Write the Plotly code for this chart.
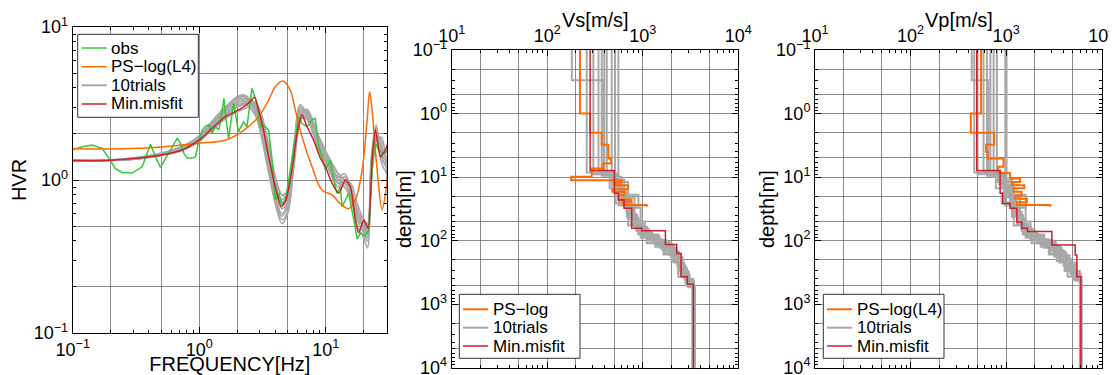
import plotly.graph_objects as go

# The page shows the figure with an 8 px body margin, so the figure is sized to fit the window.
OFF = 8
W, H = 1117 - OFF, 375 - OFF

# ---------------- HVR panel data ----------------
obs_f = [0.1, 0.119, 0.142, 0.171, 0.193, 0.217, 0.245, 0.295, 0.354, 0.387, 0.412, 0.451, 0.494, 0.525,
         0.611, 0.670, 0.711, 0.757, 0.804, 0.881, 0.936, 0.995, 1.057, 1.122, 1.194, 1.268, 1.346, 1.432,
         1.521, 1.570, 1.607, 1.706, 1.871, 2.046, 2.244, 2.388, 2.612, 2.864, 3.041, 3.228, 3.540, 3.767,
         4.000, 4.246, 4.519, 4.797, 5.248, 5.754, 6.109, 6.501, 7.129, 7.798, 8.279, 8.810, 9.354, 9.954,
         10.89, 11.56, 12.30, 13.06, 13.49, 14.32, 15.21, 16.67, 17.74, 18.84, 20.61, 21.93, 23.28, 24.77,
         26.30, 28.77, 31.4]
obs_hvr = [1.58, 1.65, 1.69, 1.61, 1.39, 1.19, 1.12, 1.11, 1.22, 1.49, 1.71, 1.42, 1.21, 1.32,
           1.65, 1.87, 1.74, 1.49, 1.39, 1.39, 1.42, 1.82, 2.12, 2.25, 2.29, 2.02, 2.23, 2.12,
           2.87, 3.42, 2.73, 1.87, 3.17, 2.07, 2.40, 2.23, 3.97, 3.17, 2.23, 2.29, 2.12, 1.35,
           0.74, 0.82, 0.69, 0.72, 1.16, 1.92, 2.59, 2.34, 2.23, 2.47, 2.53, 1.65, 1.42, 1.16,
           1.35, 1.00, 0.82, 0.90, 0.67, 0.74, 0.82, 0.55, 0.41, 0.45, 0.43, 0.47, 1.16, 1.74,
           1.57, 1.49, 1.57]

pslog_f = [0.1, 0.333, 1.0, 1.607, 2.178, 2.951, 3.540, 4.0, 4.571, 5.248, 5.754, 6.501, 7.798, 9.354,
           11.25, 13.06, 15.21, 17.18, 19.41, 21.28, 22.28, 23.28, 25.53, 27.93, 29.72, 31.4]
pslog_hvr = [1.60, 1.61, 1.74, 1.82, 2.07, 2.59, 3.33, 4.07, 4.44, 3.87, 2.87, 1.92, 1.22, 0.86,
             0.80, 0.70, 0.65, 0.74, 1.16, 2.47, 3.78, 2.87, 1.16, 0.64, 0.82, 1.16]

best_f = [0.1, 0.180, 0.333, 0.509, 0.733, 1.0, 1.268, 1.607, 1.824, 2.046, 2.455, 2.742, 2.951, 3.228,
          3.540, 4.0, 4.457, 4.797, 5.420, 5.943, 6.501, 7.129, 8.035, 9.078, 9.954, 11.25, 12.68, 14.32,
          15.70, 17.18, 18.24, 20.0, 21.68, 23.28, 24.77, 27.10, 29.72, 31.4]
best_hvr = [1.34, 1.34, 1.39, 1.46, 1.57, 1.82, 2.18, 2.59, 2.73, 2.87, 3.17, 3.47, 2.87, 2.12,
            1.42, 0.90, 0.67, 0.72, 1.16, 2.02, 2.66, 2.23, 1.82, 1.39, 1.22, 0.95, 0.82, 1.00,
            0.90, 0.55, 0.45, 0.55, 0.48, 1.35, 2.12, 1.42, 1.57, 1.82]

trial_f = [0.1, 0.25, 0.5, 0.8, 1.0, 1.25, 1.6, 2.0, 2.25, 2.5, 2.8, 3.15, 3.55, 4.0, 4.5, 5.0, 5.6,
           6.3, 7.1, 8.0, 8.9, 10, 11.2, 12.6, 14.1, 15.8, 17.8, 20, 21.4, 22.9, 25.1, 27.5, 30.5]
trial_hvr = [
    [1.34, 1.36, 1.48, 1.68, 1.90, 2.30, 2.90, 3.50, 3.60, 3.40, 2.90, 2.10, 1.30, 0.85, 0.70, 0.85, 1.70,
     3.00, 2.60, 2.00, 1.60, 1.35, 1.10, 0.95, 1.00, 0.85, 0.60, 0.50, 0.45, 1.10, 2.10, 1.60, 1.50],
    [1.34, 1.35, 1.45, 1.62, 1.80, 2.15, 2.60, 3.00, 3.10, 3.20, 3.00, 2.30, 1.50, 0.95, 0.75, 0.80, 1.40,
     2.70, 2.70, 2.10, 1.70, 1.40, 1.20, 1.00, 0.90, 0.80, 0.62, 0.55, 0.50, 1.30, 2.20, 1.40, 1.20],
    [1.34, 1.37, 1.50, 1.72, 1.95, 2.40, 3.00, 3.40, 3.30, 3.00, 2.60, 1.90, 1.15, 0.70, 0.52, 0.60, 1.20,
     2.40, 2.90, 2.30, 1.80, 1.50, 1.20, 1.05, 1.10, 0.90, 0.55, 0.45, 0.40, 0.90, 1.90, 1.70, 1.30],
    [1.34, 1.35, 1.44, 1.60, 1.78, 2.10, 2.50, 2.80, 2.90, 3.00, 2.90, 2.50, 1.70, 1.05, 0.80, 0.78, 1.30,
     2.50, 2.50, 2.20, 1.80, 1.45, 1.25, 1.10, 1.00, 0.95, 0.70, 0.55, 0.52, 1.00, 1.80, 1.90, 1.00],
    [1.34, 1.36, 1.47, 1.66, 1.86, 2.25, 2.80, 3.30, 3.40, 3.30, 2.80, 2.00, 1.25, 0.80, 0.60, 0.70, 1.50,
     2.90, 2.80, 2.00, 1.50, 1.30, 1.05, 0.90, 0.95, 0.80, 0.50, 0.42, 0.36, 1.20, 2.00, 1.50, 1.60],
    [1.34, 1.35, 1.46, 1.64, 1.83, 2.20, 2.70, 3.10, 3.20, 3.30, 3.10, 2.40, 1.55, 0.95, 0.72, 0.75, 1.35,
     2.60, 2.60, 2.20, 1.90, 1.55, 1.30, 1.10, 1.00, 0.85, 0.65, 0.50, 0.48, 1.40, 2.30, 1.30, 1.10],
    [1.34, 1.37, 1.49, 1.70, 1.92, 2.35, 2.95, 3.50, 3.50, 3.20, 2.70, 1.80, 1.10, 0.72, 0.58, 0.68, 1.55,
     3.10, 2.70, 2.10, 1.60, 1.30, 1.10, 0.95, 0.90, 0.75, 0.55, 0.50, 0.44, 1.00, 2.10, 1.60, 1.40],
    [1.34, 1.35, 1.45, 1.63, 1.82, 2.20, 2.70, 3.20, 3.30, 3.40, 3.10, 2.20, 1.40, 0.85, 0.65, 0.72, 1.45,
     2.80, 2.80, 2.30, 1.70, 1.40, 1.15, 1.00, 1.05, 0.90, 0.60, 0.48, 0.42, 1.15, 2.20, 1.50, 1.30],
    [1.34, 1.36, 1.47, 1.67, 1.88, 2.30, 2.85, 3.40, 3.50, 3.30, 2.80, 2.00, 1.20, 0.75, 0.55, 0.62, 1.30,
     2.60, 2.90, 2.40, 1.85, 1.50, 1.20, 1.00, 0.95, 0.85, 0.60, 0.50, 0.46, 1.10, 2.00, 1.80, 1.50],
    [1.34, 1.35, 1.45, 1.62, 1.80, 2.15, 2.65, 3.00, 3.15, 3.25, 3.20, 2.60, 1.60, 1.00, 0.80, 0.85, 1.50,
     2.70, 2.50, 2.00, 1.60, 1.35, 1.15, 1.05, 1.00, 0.80, 0.58, 0.52, 0.50, 1.25, 2.10, 1.45, 1.20],
]

# ---------------- Vs profiles (layer top depth [m], velocity [m/s]) ----------------
vs_pslog_top = [0.05, 1.0, 2.0, 3.1, 5.1, 6.1, 7.3, 9.9, 11.2, 12.2, 13.5, 15.5, 17.0, 19.5, 22.5, 24.5, 27.5]
vs_pslog = [220, 281, 372, 436, 466, 386, 292, 178, 600, 520, 700, 480, 640, 560, 760, 620, 1100]
pslog_bottom = 29.4

vs_best_top = [0.05, 7.9, 18, 23, 31, 64, 70, 115, 159, 371, 484]
vs_best = [281, 505, 556, 637, 767, 977, 1726, 2270, 2518, 2932, 3388]

vs_trial_top = [
    [0.05, 0.3, 9, 14, 25, 45, 80, 110, 180, 300, 450],
    [0.05, 8.5, 12, 20, 35, 60, 95, 140, 250, 420],
    [0.05, 9, 13, 19, 30, 55, 85, 130, 200, 350, 500],
    [0.05, 8, 11, 17, 28, 50, 90, 120, 220, 380, 520],
    [0.05, 9.5, 15, 22, 40, 70, 100, 150, 280, 460],
    [0.05, 8, 12, 18, 26, 45, 75, 105, 170, 260, 430],
    [0.05, 10, 16, 24, 38, 65, 100, 160, 240, 400],
    [0.05, 9, 14, 21, 33, 58, 88, 125, 190, 330, 480],
    [0.05, 10, 13, 20, 30, 50, 80, 115, 210, 370, 540],
    [0.05, 9, 15, 25, 42, 70, 110, 165, 300, 470],
]
vs_trial = [
    [181, 387, 480, 600, 700, 900, 1300, 2000, 2600, 3000, 3400],
    [259, 520, 580, 680, 820, 1100, 1600, 2300, 2800, 3400],
    [304, 540, 600, 900, 750, 1000, 1500, 2200, 2500, 3100, 3450],
    [344, 500, 640, 560, 800, 950, 1400, 2100, 2700, 2900, 3500],
    [372, 560, 620, 720, 880, 1200, 1800, 2400, 2900, 3300],
    [420, 480, 700, 520, 780, 900, 1250, 1900, 2500, 2850, 3400],
    [473, 600, 660, 760, 850, 1150, 1700, 2450, 2750, 3350],
    [513, 540, 600, 820, 700, 980, 1350, 2150, 2600, 3050, 3380],
    [556, 500, 560, 640, 950, 1050, 1450, 2000, 2350, 3000, 3500],
    [395, 450, 560, 680, 860, 1100, 1650, 2400, 2800, 3420],
]

# ---------------- Vp profiles ----------------
vp_pslog_top = [0.05, 1.0, 2.0, 3.1, 4.0, 5.1, 6.9, 8.6, 10.5, 12, 13.5, 15, 17, 19.5, 22, 25, 27.5]
vp_pslog = [547, 427, 748, 617, 640, 937, 830, 1100, 1400, 1150, 1550, 1200, 1450, 1250, 1650, 1300, 2900]

vp_best_top = [0.05, 7.9, 18, 26, 31, 51, 64, 72, 117, 168, 371]
vp_best = [493, 865, 922, 1100, 1294, 1460, 1672, 3012, 5280, 5500, 6050]

vp_trial_top = [
    [0.05, 0.3, 9, 14, 25, 45, 80, 110, 180, 300, 420],
    [0.05, 8.5, 12, 20, 35, 60, 95, 140, 250, 400],
    [0.05, 9, 13, 19, 30, 55, 85, 130, 200, 350],
    [0.05, 8, 11, 17, 28, 50, 90, 120, 220, 380],
    [0.05, 9.5, 15, 22, 40, 70, 100, 150, 280, 430],
    [0.05, 8, 12, 18, 26, 45, 75, 105, 170, 260, 400],
    [0.05, 10, 16, 24, 38, 65, 100, 160, 240, 380],
    [0.05, 9, 14, 21, 33, 58, 88, 125, 190, 330],
    [0.05, 10, 13, 20, 30, 50, 80, 115, 210, 370],
    [0.05, 9, 15, 25, 42, 70, 110, 165, 300],
]
vp_trial = [
    [437, 653, 900, 1100, 1300, 1500, 2200, 3200, 4500, 5200, 6100],
    [464, 880, 1000, 1200, 1450, 1800, 2800, 4000, 5000, 6000],
    [502, 950, 1100, 1600, 1300, 1700, 2500, 3800, 4800, 6100],
    [580, 850, 1150, 980, 1350, 1600, 2400, 3600, 5400, 6000],
    [630, 960, 1100, 1250, 1500, 2000, 3100, 4200, 5500, 6150],
    [684, 820, 1200, 900, 1300, 1550, 2100, 3300, 4600, 5100, 6000],
    [740, 1000, 1150, 1300, 1450, 1900, 2900, 4300, 5300, 6100],
    [800, 920, 1050, 1400, 1200, 1650, 2300, 3700, 4700, 6000],
    [980, 850, 950, 1100, 1600, 1800, 2500, 3400, 4400, 6100],
    [1010, 780, 960, 1150, 1450, 1850, 2800, 4100, 5900],
]

legend_hvr = ["obs", "PS\u2212log(L4)", "10trials", "Min.misfit"]
legend_vs = ["PS\u2212log", "10trials", "Min.misfit"]
legend_vp = ["PS\u2212log(L4)", "10trials", "Min.misfit"]

# ---------------- styles ----------------
C_OBS = "#33c933"
C_PS = "#ff6a00"
C_TRIAL = "#a8a8a8"
C_BEST = "#c8232a"
FONT = "Liberation Sans, Arial, sans-serif"
GRID = "rgba(100,100,100,0.75)"


def steps(tops, vels, bottom=3e4):
    xs, ys = [], []
    for i, v in enumerate(vels):
        top = tops[i]
        bot = tops[i + 1] if i + 1 < len(tops) else bottom
        xs += [v, v]
        ys += [top, bot]
    return xs, ys


def log_ticks(d0, d1):
    major, labels, minor, grid25 = [], [], [], []
    for d in range(d0, d1 + 1):
        major.append(10.0 ** d)
        labels.append("10<sup>%s%d</sup>" % ("\u2212" if d < 0 else "", abs(d)))
        for m in range(2, 10):
            minor.append(m * 10.0 ** d)
            if m in (2, 5):
                grid25.append(m * 10.0 ** d)
    return major, labels, minor, grid25


fig = go.Figure()

# HVR panel
for tr in trial_hvr:
    fig.add_trace(go.Scatter(x=trial_f, y=tr, mode="lines", line=dict(color=C_TRIAL, width=1.6, shape="spline"),
                             name="10trials", showlegend=False, xaxis="x", yaxis="y"))
fig.add_trace(go.Scatter(x=obs_f, y=obs_hvr, mode="lines", line=dict(color=C_OBS, width=1.5),
                         name="obs", showlegend=False, xaxis="x", yaxis="y"))
fig.add_trace(go.Scatter(x=pslog_f, y=pslog_hvr, mode="lines", line=dict(color=C_PS, width=1.5, shape="spline"),
                         name="PS-log(L4)", showlegend=False, xaxis="x", yaxis="y"))
fig.add_trace(go.Scatter(x=best_f, y=best_hvr, mode="lines",
                         line=dict(color=C_BEST, width=1.5, shape="spline", smoothing=0.6),
                         name="Min.misfit", showlegend=False, xaxis="x", yaxis="y"))

# Vs panel
for tops, vels in zip(vs_trial_top, vs_trial):
    x, y = steps(tops, vels)
    fig.add_trace(go.Scatter(x=x, y=y, mode="lines", line=dict(color=C_TRIAL, width=2),
                             name="10trials", showlegend=False, xaxis="x2", yaxis="y2"))
x, y = steps(vs_pslog_top, vs_pslog, pslog_bottom)
fig.add_trace(go.Scatter(x=x, y=y, mode="lines", line=dict(color=C_PS, width=2), name="PS-log",
                         showlegend=False, xaxis="x2", yaxis="y2"))
x, y = steps(vs_best_top, vs_best)
fig.add_trace(go.Scatter(x=x, y=y, mode="lines", line=dict(color=C_BEST, width=1.5), name="Min.misfit",
                         showlegend=False, xaxis="x2", yaxis="y2"))

# Vp panel
for tops, vels in zip(vp_trial_top, vp_trial):
    x, y = steps(tops, vels)
    fig.add_trace(go.Scatter(x=x, y=y, mode="lines", line=dict(color=C_TRIAL, width=2),
                             name="10trials", showlegend=False, xaxis="x3", yaxis="y3"))
x, y = steps(vp_pslog_top, vp_pslog, pslog_bottom)
fig.add_trace(go.Scatter(x=x, y=y, mode="lines", line=dict(color=C_PS, width=2), name="PS-log(L4)",
                         showlegend=False, xaxis="x3", yaxis="y3"))
x, y = steps(vp_best_top, vp_best)
fig.add_trace(go.Scatter(x=x, y=y, mode="lines", line=dict(color=C_BEST, width=1.5), name="Min.misfit",
                         showlegend=False, xaxis="x3", yaxis="y3"))

# empty traces so the overlay axes (grid lines at 2x and 5x) get drawn
for xa, ya in [("x4", "y4"), ("x5", "y5"), ("x6", "y6")]:
    fig.add_trace(go.Scatter(x=[], y=[], mode="lines", showlegend=False, hoverinfo="skip", xaxis=xa, yaxis=ya))


# pixel (window) -> paper helpers
def PX(x):
    return (x - OFF) / W


def PY(y):
    return 1 - (y - OFF) / H


def axis(ticks, rng, dom, anchor, side, title=None, standoff=0):
    major, labels, minor, _ = ticks
    a = dict(type="log", range=rng, domain=dom, anchor=anchor, side=side,
             tickmode="array", tickvals=major, ticktext=labels, ticks="inside", ticklen=6,
             tickcolor="black", mirror="allticks", showline=True, linecolor="black", linewidth=1,
             showgrid=True, gridcolor=GRID, gridwidth=1, zeroline=False,
             minor=dict(tickmode="array", tickvals=minor, ticks="inside", ticklen=3, tickcolor="black",
                        showgrid=False),
             tickfont=dict(family=FONT, size=18, color="black"), ticklabeloverflow="allow",
             automargin=False, fixedrange=True, layer="above traces")
    if title:
        a["title"] = dict(text=title, font=dict(family=FONT, size=20, color="black"), standoff=standoff)
    return a


def grid_axis(ticks, rng, dom, anchor, overlay):
    return dict(type="log", range=rng, domain=dom, anchor=anchor, overlaying=overlay,
                tickmode="array", tickvals=ticks[3], ticks="", showticklabels=False, showline=False,
                showgrid=True, gridcolor=GRID, gridwidth=1, zeroline=False, fixedrange=True)


tk_f = log_ticks(-1, 1)
tk_h = log_ticks(-1, 1)
tk_v = log_ticks(1, 4)
tk_d = log_ticks(-1, 4)

dx1, dy1 = [PX(72.7), PX(387)], [PY(333), PY(27)]
dx2, dy2 = [PX(451.7), PX(738.3)], [PY(367.7), PY(50)]
dx3, dy3 = [PX(815), PX(1101.7)], [PY(367.7), PY(50)]
r_f, r_h, r_v, r_d = [-1, 1.485], [-1, 1], [1, 4], [4, -1]

fig.update_layout(
    width=W, height=H, margin=dict(l=0, r=0, t=0, b=0),
    paper_bgcolor="white", plot_bgcolor="white", showlegend=False,
    font=dict(family=FONT, color="black"),
    xaxis=axis(tk_f, r_f, dx1, "y", "bottom", "FREQUENCY[Hz]", 6),
    yaxis=axis(tk_h, r_h, dy1, "x", "left", "HVR", 6),
    xaxis2=axis(tk_v, r_v, dx2, "y2", "top"),
    yaxis2=axis(tk_d, r_d, dy2, "x2", "left"),
    xaxis3=axis(tk_v, r_v, dx3, "y3", "top"),
    yaxis3=axis(tk_d, r_d, dy3, "x3", "left"),
    xaxis4=grid_axis(tk_f, r_f, dx1, "y4", "x"),
    yaxis4=grid_axis(tk_h, r_h, dy1, "x4", "y"),
    xaxis5=grid_axis(tk_v, r_v, dx2, "y5", "x2"),
    yaxis5=grid_axis(tk_d, r_d, dy2, "x5", "y2"),
    xaxis6=grid_axis(tk_v, r_v, dx3, "y6", "x3"),
    yaxis6=grid_axis(tk_d, r_d, dy3, "x6", "y3"),
)

shapes, annots = [], []

# axis titles of the two profile panels
for txt, x, y, ang in [("Vs[m/s]", 595, 20, 0), ("Vp[m/s]", 958.5, 20, 0),
                       ("depth[m]", 404, 209, -90), ("depth[m]", 767, 209, -90)]:
    annots.append(dict(xref="paper", yref="paper", x=PX(x), y=PY(y), text=txt, showarrow=False,
                       xanchor="center", yanchor="middle", textangle=ang,
                       font=dict(family=FONT, size=20, color="black")))


def add_legend(box, rows, line_x, text_x, labels, colors, widths):
    x0, y0, x1, y1 = box
    shapes.append(dict(type="rect", xref="paper", yref="paper", x0=PX(x0), x1=PX(x1), y0=PY(y1), y1=PY(y0),
                       line=dict(color="#333333", width=1), fillcolor="white", layer="above"))
    for ry, lab, c, w in zip(rows, labels, colors, widths):
        shapes.append(dict(type="line", xref="paper", yref="paper", x0=PX(line_x[0]), x1=PX(line_x[1]),
                           y0=PY(ry), y1=PY(ry), line=dict(color=c, width=w), layer="above"))
        annots.append(dict(xref="paper", yref="paper", x=PX(text_x), y=PY(ry), text=lab, showarrow=False,
                           xanchor="left", yanchor="middle", font=dict(family=FONT, size=17, color="black")))


add_legend((77.7, 34.3, 198.3, 117.3), [48, 66.7, 85.3, 104], (81.7, 106.7), 108.5, legend_hvr,
           [C_OBS, C_PS, C_TRIAL, C_BEST], [1.5, 1.5, 2, 1.5])
add_legend((459.3, 294.3, 580, 358.3), [309.3, 327.7, 346], (463, 488.3), 490.5, legend_vs,
           [C_PS, C_TRIAL, C_BEST], [2, 2, 1.5])
add_legend((823.3, 294.3, 944, 358.3), [309.3, 327.7, 346], (827, 852.3), 854.5, legend_vp,
           [C_PS, C_TRIAL, C_BEST], [2, 2, 1.5])

fig.update_layout(shapes=shapes, annotations=annots)
fig.write_html("out.html")
